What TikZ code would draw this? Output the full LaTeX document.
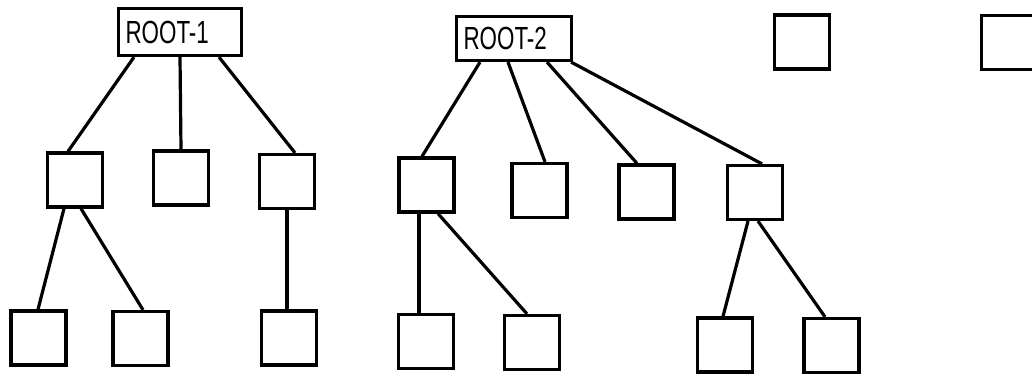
\documentclass[tikz,border=0pt]{standalone}
\usepackage{fontspec}
\newfontfamily\rootfont[FakeStretch=0.7]{Liberation Sans}
\begin{document}
\begin{tikzpicture}[x=1pt,y=-1pt,
  box/.style={draw, line width=3.2pt, minimum width=55pt, minimum height=54pt, inner sep=0pt},
  rootbox/.style={draw, line width=3.2pt, inner xsep=7pt, inner ysep=0pt, align=left,
    font=\rootfont\fontsize{32}{32}\selectfont},
  link/.style={line width=3.2pt}]
\useasboundingbox (0,0) rectangle (1032,378);
% roots
\node[rootbox, text width=109pt, minimum height=47pt] (r1) at (180,32) {ROOT-1};
\node[rootbox, text width=101pt, minimum height=44pt] (r2) at (514,38.5) {ROOT-2};
% tree 1
\node[box] (c1) at (75,180) {};
\node[box] (c2) at (181,178) {};
\node[box] (c3) at (287,181.5) {};
\node[box] (g1) at (38.5,338) {};
\node[box] (g2) at (140.5,338.5) {};
\node[box] (g3) at (289,338) {};
% tree 2
\node[box] (d1) at (426.5,185) {};
\node[box] (d2) at (539.5,190.5) {};
\node[box] (d3) at (646.5,192) {};
\node[box] (d4) at (755,192.5) {};
\node[box] (e1) at (426,341.5) {};
\node[box] (e2) at (532,342.5) {};
\node[box] (e3) at (725,345) {};
\node[box] (e4) at (831.5,345.5) {};
% isolated
\node[box] (f1) at (802,42) {};
\node[box] (f2) at (1009,42.5) {};
% connectors tree 1
\draw[link] ([xshift=-46pt]r1.south) -- ([xshift=-7pt]c1.north);
\draw[link] (r1.south) -- (c2.north);
\draw[link] ([xshift=39pt]r1.south) -- ([xshift=8pt]c3.north);
\draw[link] ([xshift=-11pt]c1.south) -- ([xshift=-0.5pt]g1.north);
\draw[link] ([xshift=6pt]c1.south) -- ([xshift=2.5pt]g2.north);
\draw[link] (c3.south) -- ([xshift=-2pt]g3.north);
% connectors tree 2
\draw[link] ([xshift=-34pt]r2.south) -- ([xshift=-4.5pt]d1.north);
\draw[link] ([xshift=-6pt]r2.south) -- ([xshift=5.5pt]d2.north);
\draw[link] ([xshift=33pt]r2.south) -- ([xshift=-9.5pt]d3.north);
\draw[link] ([xshift=-2pt]r2.south east) -- ([xshift=7pt]d4.north);
\draw[link] ([xshift=-7.5pt]d1.south) -- ([xshift=-7pt]e1.north);
\draw[link] ([xshift=11.5pt]d1.south) -- ([xshift=-5pt]e2.north);
\draw[link] ([xshift=-7pt]d4.south) -- ([xshift=-2pt]e3.north);
\draw[link] ([xshift=3pt]d4.south) -- ([xshift=-6.5pt]e4.north);
\end{tikzpicture}
\end{document}
